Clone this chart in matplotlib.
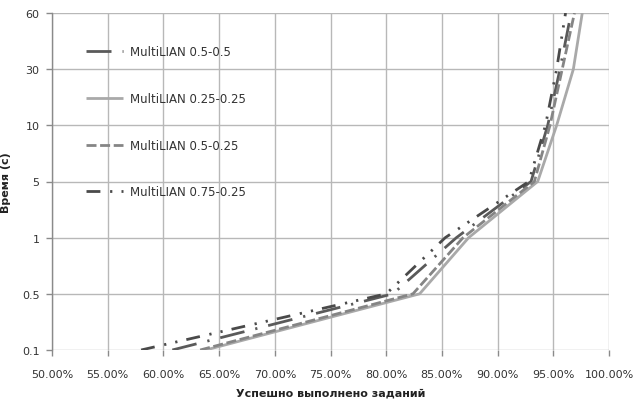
import matplotlib
matplotlib.use("Agg")
import matplotlib.pyplot as plt

# ---- data ----
time_labels = ["0.1", "0.5", "1", "5", "10", "30", "60"]
series_names = ["MultiLIAN 0.5-0.5", "MultiLIAN 0.25-0.25",
                "MultiLIAN 0.5-0.25", "MultiLIAN 0.75-0.25"]
s_05_05 = [60.8, 80.6, 86.3, 93.0, 94.5, 95.6, 96.6]
s_025_025 = [63.8, 83.0, 87.4, 93.6, 95.3, 96.8, 97.6]
s_05_025 = [63.3, 82.4, 86.9, 93.3, 94.7, 95.8, 96.9]
s_075_025 = [58.0, 80.0, 85.3, 92.8, 94.3, 95.3, 96.1]
x_ticks = [50, 55, 60, 65, 70, 75, 80, 85, 90, 95, 100]

# ---- styles ----
styles = [
    dict(color="#5a5a5a", lw=2.0, dashes=(9, 4, 0.8, 4)),
    dict(color="#a9a9a9", lw=2.0, dashes=None),
    dict(color="#858585", lw=2.0, dashes=(3.6, 1.3)),
    dict(color="#4a4a4a", lw=2.0, dashes=(5, 3.5, 0.8, 3.3, 0.8, 3.3)),
]

fig = plt.figure(figsize=(6.34, 4.02), dpi=100)
ax = fig.add_axes([52 / 634, 1 - 351 / 402, (609 - 52) / 634, (351 - 14) / 402])

txt = "#333333"
grid_c = "#b8b8b8"

all_series = [s_05_05, s_025_025, s_05_025, s_075_025]
ypos = list(range(len(time_labels)))
for vals, st, name in zip(all_series, styles, series_names):
    line, = ax.plot(vals, ypos, color=st["color"], lw=st["lw"], label=name,
                    solid_capstyle="butt", dash_capstyle="butt",
                    solid_joinstyle="round", dash_joinstyle="round", zorder=3)
    if st["dashes"] is not None:
        line.set_dashes(st["dashes"])

ax.set_xlim(50, 100)
ax.set_ylim(0, 6)
ax.set_xticks(x_ticks)
ax.set_xticklabels([f"{v:.2f}%" for v in x_ticks])
ax.set_yticks(ypos)
ax.set_yticklabels(time_labels)

ax.grid(True, color=grid_c, lw=1.0, zorder=0)
ax.set_axisbelow(True)
for side in ["top", "right", "bottom"]:
    ax.spines[side].set_visible(False)
ax.spines["left"].set_color("#8a8a8a")
ax.spines["left"].set_linewidth(1.0)

ax.tick_params(axis="x", length=4, width=1.0, color="#8a8a8a", pad=10,
               labelsize=8, labelcolor=txt)
ax.tick_params(axis="y", length=4, width=1.0, color="#8a8a8a", pad=5,
               labelsize=8, labelcolor=txt)

ax.set_xlabel("Успешно выполнено заданий", fontsize=8, fontweight="bold",
              color="#222222", labelpad=6)
ax.set_ylabel("Время (с)", fontsize=8, fontweight="bold", color="#222222",
              labelpad=8)

leg = ax.legend(loc="upper left", bbox_to_anchor=(0.052, 0.918),
                frameon=False, fontsize=8.5,
                handlelength=3.2, handletextpad=0.55, labelspacing=2.85,
                borderaxespad=0)
for t in leg.get_texts():
    t.set_color(txt)

fig.savefig("out.png", dpi=100)
